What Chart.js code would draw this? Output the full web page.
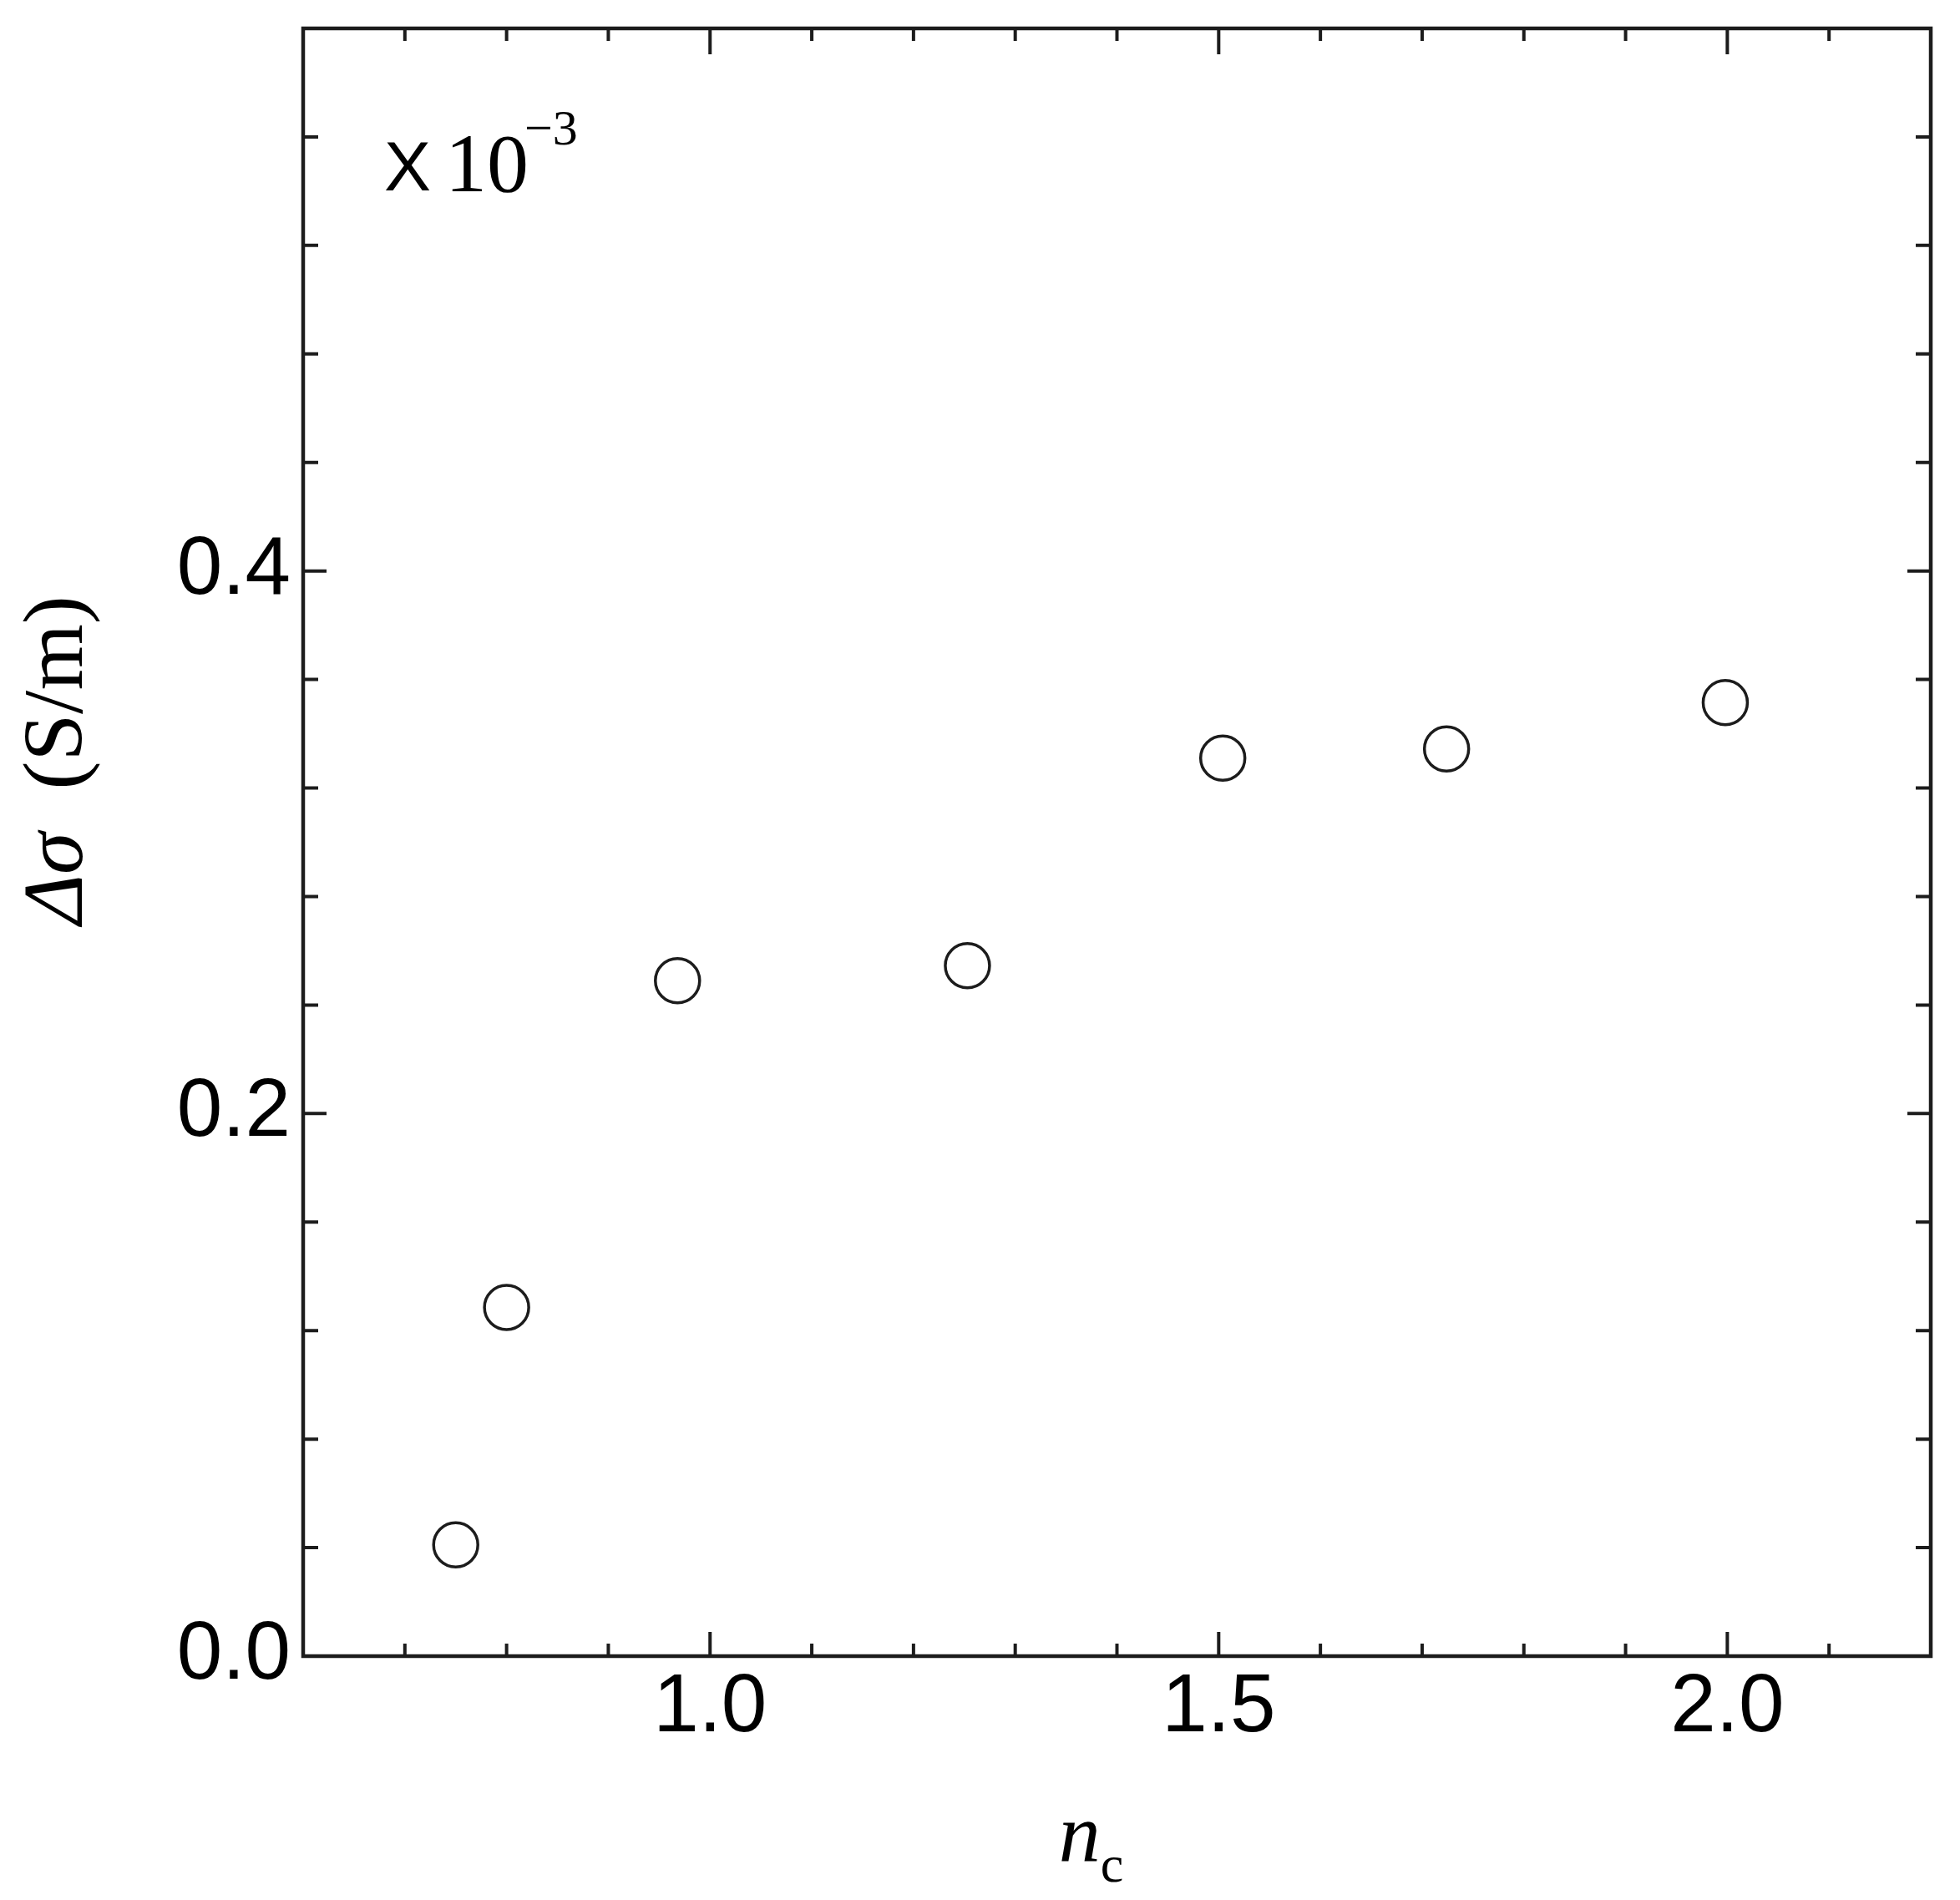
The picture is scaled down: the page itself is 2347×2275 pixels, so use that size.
<!DOCTYPE html>
<html>
<head>
<meta charset="utf-8">
<script src="https://cdn.jsdelivr.net/npm/chart.js@4/dist/chart.umd.min.js"></script>
<style>
  html, body { margin: 0; padding: 0; background: #ffffff; }
  #c { display: block; }
</style>
</head>
<body>
<canvas id="c" width="2347" height="2275"></canvas>
<script>
// ---- data ----
const ncValues    = [0.75, 0.80, 0.968, 1.253, 1.504, 1.724, 1.998];
const deltaSigma  = [0.041, 0.1285, 0.249, 0.2545, 0.331, 0.3344, 0.3515];

// ---- axis ticks ----
const xTickLabels = [1.0, 1.5, 2.0];
const xMinorTicks = [0.7, 0.8, 0.9, 1.1, 1.2, 1.3, 1.4, 1.6, 1.7, 1.8, 1.9, 2.1];
const yTickLabels = [0.0, 0.2, 0.4];
const yMinorTicks = [0.04, 0.08, 0.12, 0.16, 0.24, 0.28, 0.32, 0.36, 0.44, 0.48, 0.52, 0.56];
const xRange = [0.6, 2.2];
const yRange = [0.0, 0.6];

const INK = '#1c1c1c';

const framePlugin = {
  id: 'frame',
  afterDraw(chart) {
    const ctx = chart.ctx;
    const a = chart.chartArea;
    const xs = chart.scales.x, ys = chart.scales.y;
    ctx.save();
    ctx.strokeStyle = INK;
    ctx.lineCap = 'butt';
    // frame
    ctx.lineWidth = 4.5;
    ctx.strokeRect(a.left, a.top, a.right - a.left, a.bottom - a.top);
    // inward ticks
    ctx.lineWidth = 4;
    const xt = (v, lenB, lenT) => {
      const p = xs.getPixelForValue(v);
      ctx.beginPath();
      ctx.moveTo(p, a.bottom); ctx.lineTo(p, a.bottom - lenB);
      ctx.moveTo(p, a.top);    ctx.lineTo(p, a.top + lenT);
      ctx.stroke();
    };
    const yt = (v, len) => {
      const p = ys.getPixelForValue(v);
      ctx.beginPath();
      ctx.moveTo(a.left, p);  ctx.lineTo(a.left + len, p);
      ctx.moveTo(a.right, p); ctx.lineTo(a.right - len, p);
      ctx.stroke();
    };
    xTickLabels.forEach(v => xt(v, 29, 31));
    xMinorTicks.forEach(v => xt(v, 15, 15));
    yTickLabels.forEach(v => yt(v, 28));
    yMinorTicks.forEach(v => yt(v, 18));

    ctx.fillStyle = '#000';
    ctx.textBaseline = 'alphabetic';
    ctx.textAlign = 'left';

    // x title: n_c
    const fN = 'italic 100px "Liberation Serif", "Times New Roman", serif';
    const fC = '62px "Liberation Serif", "Times New Roman", serif';
    ctx.font = fN; const wn = ctx.measureText('n').width;
    ctx.font = fC; const wc = ctx.measureText('c').width;
    const xStart = (a.left + a.right) / 2 - 31 - (wn + wc) / 2;
    ctx.font = fN; ctx.fillText('n', xStart, 2228);
    ctx.font = fC; ctx.fillText('c', xStart + wn, 2253);

    // y title: Δσ  (S/m)
    const fI = 'italic 102px "Liberation Serif", "Times New Roman", serif';
    const fU = '102px "Liberation Serif", "Times New Roman", serif';
    ctx.font = fI; const w1 = ctx.measureText('\u0394\u03C3').width;
    ctx.font = fU; const w2 = ctx.measureText('  (S/m)').width;
    ctx.save();
    ctx.translate(98, 910);
    ctx.rotate(-Math.PI / 2);
    const s = -(w1 + w2) / 2;
    ctx.font = fI; ctx.fillText('\u0394\u03C3', s, 0);
    ctx.font = fU; ctx.fillText('  (S/m)', s + w1, 0);
    ctx.restore();

    // multiplier annotation: X 10^-3
    ctx.font = '84px "Liberation Sans", Arial, sans-serif';
    ctx.fillText('X', 460, 228);
    ctx.font = '100px "Liberation Serif", "Times New Roman", serif';
    ctx.fillText('10', 533, 229);
    ctx.font = '60px "Liberation Serif", "Times New Roman", serif';
    ctx.fillText('\u22123', 628, 173);

    ctx.restore();
  }
};

const points = ncValues.map((x, i) => ({ x: x, y: deltaSigma[i] }));

new Chart(document.getElementById('c'), {
  type: 'scatter',
  data: {
    datasets: [{
      data: points,
      pointStyle: 'circle',
      pointRadius: 26.5,
      pointHoverRadius: 26.5,
      borderWidth: 3.5,
      pointBorderWidth: 3.5,
      borderColor: INK,
      backgroundColor: 'rgba(0,0,0,0)',
      showLine: false
    }]
  },
  options: {
    responsive: false,
    animation: false,
    devicePixelRatio: 1,
    events: [],
    layout: { padding: { top: 34, right: 35, left: 0, bottom: 0 } },
    plugins: { legend: { display: false }, tooltip: { enabled: false }, title: { display: false } },
    scales: {
      x: {
        type: 'linear',
        position: 'bottom',
        min: xRange[0], max: xRange[1],
        afterBuildTicks: (s) => { s.ticks = xTickLabels.map(v => ({ value: v })); },
        afterFit: (s) => { s.height = 292; s.paddingLeft = 0; s.paddingRight = 0; },
        ticks: {
          autoSkip: false, maxRotation: 0, minRotation: 0,
          padding: 4,
          color: '#000',
          font: { family: '"Liberation Sans", Arial, sans-serif', size: 98 },
          callback: (v) => Number(v).toFixed(1)
        },
        grid: { display: false, drawTicks: false },
        border: { display: false }
      },
      y: {
        type: 'linear',
        position: 'left',
        min: yRange[0], max: yRange[1],
        afterBuildTicks: (s) => { s.ticks = yTickLabels.map(v => ({ value: v })); },
        afterFit: (s) => { s.width = 363; s.paddingTop = 0; s.paddingBottom = 0; },
        ticks: {
          autoSkip: false,
          padding: 15,
          color: '#000',
          font: { family: '"Liberation Sans", Arial, sans-serif', size: 98 },
          callback: (v) => Number(v).toFixed(1)
        },
        grid: { display: false, drawTicks: false },
        border: { display: false }
      }
    }
  },
  plugins: [framePlugin]
});
</script>
</body>
</html>
